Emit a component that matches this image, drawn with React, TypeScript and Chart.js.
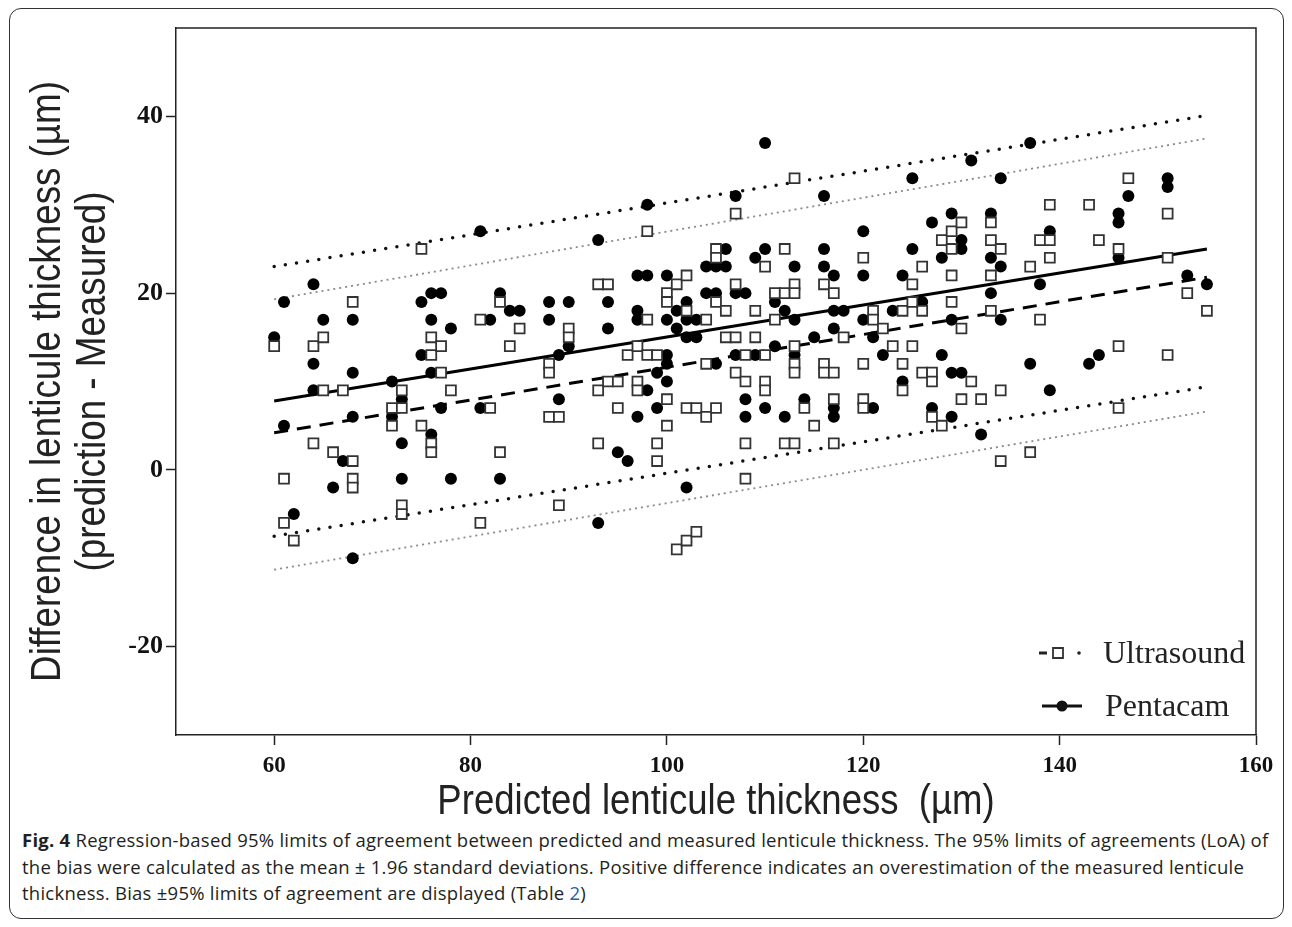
import React, { useEffect, useRef } from "react";
import { Chart, registerables } from "chart.js";

Chart.register(...registerables);

// ---- data ----
const xTicks = [60, 80, 100, 120, 140, 160];
const yTicks = [-20, 0, 20, 40];

const seriesNames = ["Ultrasound", "Pentacam"];

// Ultrasound (open squares): [predicted thickness, difference]
const ultrasoundPoints: [number, number][] = [
  [60, 14], [61, -1], [61, -6], [62, -8], [64, 14], [64, 3], [65, 15], [65, 9], [66, 2], [67, 9],
  [68, 19], [68, 1], [68, -1], [68, -2], [72, 7], [72, 5], [73, 9], [73, 7], [73, -4], [73, -5],
  [75, 25], [75, 5], [76, 15], [76, 13], [76, 3], [76, 2], [77, 14], [77, 11], [78, 9], [81, 17],
  [81, -6], [82, 7], [83, 19], [83, 2], [84, 14], [85, 16], [88, 12], [88, 11], [88, 6], [89, 6],
  [89, -4], [90, 16], [90, 15], [93, 21], [94, 21], [93, 9], [93, 3], [94, 10], [95, 10], [95, 7],
  [96, 13], [97, 14], [97, 10], [97, 9], [98, 27], [98, 17], [98, 13], [99, 13], [99, 3], [99, 1],
  [100, 20], [100, 19], [100, 8], [100, 5], [101, 21], [101, -9], [102, 22], [102, 18], [102, 7], [102, -8],
  [103, 7], [103, -7], [104, 17], [104, 12], [104, 6], [105, 25], [105, 24], [105, 19], [105, 7], [106, 18],
  [106, 15], [107, 29], [107, 21], [107, 15], [107, 11], [108, 13], [108, 10], [108, 3], [108, -1], [109, 18],
  [109, 15], [110, 23], [110, 13], [110, 10], [110, 9], [111, 20], [111, 17], [112, 25], [112, 20], [112, 3],
  [113, 33], [113, 21], [113, 20], [113, 14], [113, 12], [113, 11], [113, 3], [114, 7], [115, 5], [116, 21],
  [116, 12], [116, 11], [117, 20], [117, 11], [117, 8], [117, 3], [118, 15], [120, 24], [120, 12], [120, 8],
  [120, 7], [121, 18], [121, 17], [122, 16], [123, 14], [124, 18], [124, 12], [124, 9], [125, 21], [125, 19],
  [125, 14], [126, 23], [126, 18], [126, 11], [127, 11], [127, 10], [127, 6], [128, 26], [128, 5], [129, 27],
  [129, 25], [129, 22], [129, 19], [130, 28], [130, 16], [130, 8], [131, 10], [132, 8], [133, 28], [133, 26],
  [133, 22], [133, 18], [134, 25], [134, 9], [134, 1], [137, 23], [137, 2], [138, 26], [138, 17], [139, 30],
  [139, 26], [139, 24], [143, 30], [144, 26], [146, 25], [146, 14], [146, 7], [147, 33], [151, 29], [151, 24],
  [151, 13], [153, 20], [155, 18],
];

// Pentacam (filled circles): [predicted thickness, difference]
const pentacamPoints: [number, number][] = [
  [60, 15], [61, 19], [61, 5], [62, -5], [64, 21], [64, 12], [64, 9], [65, 17], [66, -2], [67, 1],
  [68, 17], [68, 11], [68, 6], [68, -10], [72, 10], [72, 6], [73, 8], [73, 3], [73, -1], [75, 19],
  [75, 13], [76, 20], [76, 17], [76, 11], [76, 4], [77, 20], [77, 7], [78, 16], [78, -1], [81, 27],
  [81, 7], [82, 17], [83, 20], [83, -1], [84, 18], [85, 18], [88, 19], [88, 17], [89, 13], [89, 8],
  [90, 19], [90, 14], [93, 26], [93, -6], [94, 19], [94, 16], [95, 2], [96, 1], [97, 22], [97, 18],
  [97, 17], [97, 6], [98, 30], [98, 22], [98, 9], [99, 11], [99, 7], [100, 22], [100, 17], [100, 13],
  [100, 12], [100, 10], [101, 18], [101, 16], [102, 19], [102, 17], [102, 15], [102, -2], [103, 17], [103, 15],
  [104, 23], [104, 20], [105, 23], [105, 20], [105, 12], [106, 25], [106, 23], [107, 31], [107, 20], [107, 13],
  [108, 20], [108, 8], [108, 6], [109, 24], [109, 13], [110, 37], [110, 25], [110, 7], [111, 19], [111, 14],
  [112, 18], [112, 6], [113, 23], [113, 17], [113, 13], [114, 8], [115, 15], [116, 31], [116, 25], [116, 23],
  [117, 22], [117, 18], [117, 16], [117, 7], [117, 6], [118, 18], [120, 27], [120, 22], [120, 17], [121, 15],
  [121, 7], [122, 13], [123, 18], [124, 22], [124, 10], [125, 33], [125, 25], [126, 19], [127, 28], [127, 7],
  [128, 24], [128, 13], [129, 29], [129, 17], [129, 11], [129, 6], [130, 26], [130, 25], [130, 11], [131, 35],
  [132, 4], [133, 29], [133, 24], [133, 20], [134, 33], [134, 23], [134, 17], [137, 37], [137, 12], [138, 21],
  [139, 27], [139, 9], [143, 12], [144, 13], [146, 29], [146, 28], [146, 24], [147, 31], [151, 33], [151, 32],
  [153, 22], [155, 21],
];

// regression-based bias and 95% limits of agreement (end points at x = 60 and 155)
const lineX = [60, 155];
const pentacamMean = [7.8, 25.0];
const pentacamUpper = [23.0, 40.1];
const pentacamLower = [-7.5, 9.4];
const ultrasoundMean = [4.2, 21.8];
const ultrasoundUpper = [19.3, 37.5];
const ultrasoundLower = [-11.3, 6.6];

const xTitle = "Predicted lenticule thickness  (µm)";
const yTitle = ["Difference in lenticule thickness (µm)", "(prediction - Measured)"];

const titleFont = "43px 'Liberation Sans', Arial, sans-serif";
const serif = "'Liberation Serif', 'Times New Roman', serif";

const CANVAS_W = 1276;
const CANVAS_H = 817;

export default function App() {
  const ref = useRef<HTMLCanvasElement | null>(null);

  useEffect(() => {
    if (!ref.current) return;
    const toXY = (pts: [number, number][]) => pts.map(([x, y]) => ({ x, y }));
    const line = (ys: number[]) => lineX.map((x, i) => ({ x, y: ys[i] }));

    const decorPlugin = {
      id: "frameLegendTitles",
      afterDraw(chart: any) {
        const { ctx, chartArea: a } = chart;
        ctx.save();
        // top and right sides of the plot box
        ctx.strokeStyle = "#222";
        ctx.lineWidth = 1.5;
        ctx.beginPath();
        ctx.moveTo(a.left, a.top);
        ctx.lineTo(a.right, a.top);
        ctx.lineTo(a.right, a.bottom);
        ctx.stroke();

        // axis titles (narrow sans: horizontally condensed Liberation Sans)
        ctx.fillStyle = "#222";
        ctx.font = titleFont;
        ctx.textAlign = "center";
        ctx.textBaseline = "middle";
        const cx = (a.left + a.right) / 2;
        const cy = (a.top + a.bottom) / 2;
        ctx.save();
        ctx.translate(cx, 794);
        ctx.scale(0.85, 1);
        ctx.fillText(xTitle, 0, 0);
        ctx.restore();
        yTitle.forEach((t, i) => {
          ctx.save();
          ctx.translate(40 + i * 45, cy);
          ctx.rotate(-Math.PI / 2);
          ctx.scale(0.855, 1);
          ctx.fillText(t, 0, 0);
          ctx.restore();
        });

        // legend inside plot, lower right
        const r = a.right;
        ctx.font = `32px ${serif}`;
        ctx.textBaseline = "alphabetic";
        ctx.textAlign = "left";
        // Ultrasound row
        const y1 = 645;
        ctx.strokeStyle = "#222";
        ctx.lineWidth = 3;
        ctx.beginPath();
        ctx.moveTo(r - 217, y1);
        ctx.lineTo(r - 209, y1);
        ctx.stroke();
        ctx.lineWidth = 1.8;
        ctx.strokeStyle = "#333";
        ctx.fillStyle = "#fff";
        ctx.beginPath();
        ctx.rect(r - 203, y1 - 5, 10, 10);
        ctx.fill();
        ctx.stroke();
        ctx.fillStyle = "#222";
        ctx.beginPath();
        ctx.arc(r - 177, y1, 1.8, 0, Math.PI * 2);
        ctx.fill();
        ctx.fillText(chart.data.datasets[0].label, r - 153, y1 + 10);
        // Pentacam row
        const y2 = 698;
        ctx.strokeStyle = "#111";
        ctx.lineWidth = 3;
        ctx.beginPath();
        ctx.moveTo(r - 214, y2);
        ctx.lineTo(r - 174, y2);
        ctx.stroke();
        ctx.fillStyle = "#111";
        ctx.beginPath();
        ctx.arc(r - 194, y2, 5.5, 0, Math.PI * 2);
        ctx.fill();
        ctx.fillStyle = "#222";
        ctx.fillText(chart.data.datasets[1].label, r - 151, y2 + 10);
        ctx.restore();
      },
    };

    const chart = new Chart(ref.current, {
      type: "scatter",
      data: {
        datasets: [
          {
            label: seriesNames[0],
            data: toXY(ultrasoundPoints),
            pointStyle: "rect",
            pointRadius: 7,
            backgroundColor: "#ffffff",
            borderColor: "#333333",
            borderWidth: 1.8,
            order: 1,
          },
          {
            label: seriesNames[1],
            data: toXY(pentacamPoints),
            pointStyle: "circle",
            pointRadius: 6,
            backgroundColor: "#000000",
            borderColor: "#000000",
            borderWidth: 0,
            order: 2,
          },
          {
            label: "Pentacam bias",
            data: line(pentacamMean),
            showLine: true,
            pointRadius: 0,
            borderColor: "#000",
            borderWidth: 3,
            order: 3,
          },
          {
            label: "Ultrasound bias",
            data: line(ultrasoundMean),
            showLine: true,
            pointRadius: 0,
            borderColor: "#000",
            borderWidth: 3,
            borderDash: [14, 9],
            order: 3,
          },
          {
            label: "Pentacam upper LoA",
            data: line(pentacamUpper),
            showLine: true,
            pointRadius: 0,
            borderColor: "#111",
            borderWidth: 3.5,
            borderDash: [0, 11.3],
            borderCapStyle: "round",
            order: 3,
          },
          {
            label: "Pentacam lower LoA",
            data: line(pentacamLower),
            showLine: true,
            pointRadius: 0,
            borderColor: "#111",
            borderWidth: 3.5,
            borderDash: [0, 11.3],
            borderCapStyle: "round",
            order: 3,
          },
          {
            label: "Ultrasound upper LoA",
            data: line(ultrasoundUpper),
            showLine: true,
            pointRadius: 0,
            borderColor: "#8a8a8a",
            borderWidth: 1.8,
            borderDash: [2, 4],
            order: 3,
          },
          {
            label: "Ultrasound lower LoA",
            data: line(ultrasoundLower),
            showLine: true,
            pointRadius: 0,
            borderColor: "#8a8a8a",
            borderWidth: 1.8,
            borderDash: [2, 4],
            order: 3,
          },
        ],
      },
      options: {
        animation: false,
        responsive: false,
        events: [],
        layout: { padding: { left: 0, top: 20, right: 28, bottom: 0 } },
        plugins: {
          legend: { display: false },
          tooltip: { enabled: false },
        },
        scales: {
          x: {
            type: "linear",
            min: 50,
            max: 160,
            afterBuildTicks: (s: any) => {
              s.ticks = xTicks.map((v) => ({ value: v }));
            },
            afterFit: (s: any) => {
              s.height = 90;
            },
            grid: {
              drawOnChartArea: false,
              drawTicks: true,
              tickLength: 10,
              tickColor: "#222",
              tickWidth: 1.5,
            },
            border: { display: true, color: "#222", width: 1.5 },
            ticks: {
              font: { family: serif, weight: "bold", size: 23 },
              color: "#111",
              padding: 7,
              maxRotation: 0,
              autoSkip: false,
            },
            title: { display: false },
          },
          y: {
            type: "linear",
            min: -30,
            max: 50,
            afterBuildTicks: (s: any) => {
              s.ticks = yTicks.map((v) => ({ value: v }));
            },
            afterFit: (s: any) => {
              s.width = 168;
            },
            grid: {
              drawOnChartArea: false,
              drawTicks: true,
              tickLength: 10,
              tickColor: "#222",
              tickWidth: 1.5,
            },
            border: { display: true, color: "#222", width: 1.5 },
            ticks: {
              font: { family: serif, weight: "bold", size: 26 },
              color: "#111",
              padding: 3,
              autoSkip: false,
            },
            title: { display: false },
          },
        },
      },
      plugins: [decorPlugin],
    } as any);

    return () => chart.destroy();
  }, []);

  return (
    <div style={{ position: "relative", width: CANVAS_W, height: 911 }}>
      <div
        style={{
          position: "absolute",
          left: 1,
          top: 0,
          width: 1275,
          height: 911,
          boxSizing: "border-box",
          border: "1.5px solid #333",
          borderRadius: 12,
        }}
      />
      <canvas
        ref={ref}
        width={CANVAS_W}
        height={CANVAS_H}
        style={{ position: "absolute", left: 0, top: 0, width: CANVAS_W, height: CANVAS_H }}
      />
      <div
        style={{
          position: "absolute",
          left: 14,
          top: 819,
          whiteSpace: "nowrap",
          fontFamily: "'Open Sans', 'Noto Sans', sans-serif",
          fontSize: 18.5,
          lineHeight: "26.5px",
          color: "#231f20",
          letterSpacing: "0.25px",
        }}
      >
        <b>Fig. 4</b> Regression-based 95% limits of agreement between predicted and measured lenticule thickness. The 95% limits of agreements (LoA) of
        <br />
        the bias were calculated as the mean ± 1.96 standard deviations. Positive difference indicates an overestimation of the measured lenticule
        <br />
        thickness. Bias ±95% limits of agreement are displayed (Table <span style={{ color: "#2a5db0" }}>2</span>)
      </div>
    </div>
  );
}
